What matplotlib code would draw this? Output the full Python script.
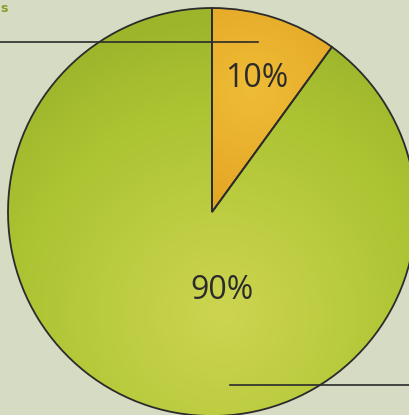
import numpy as np
import matplotlib
matplotlib.use("Agg")
import matplotlib.pyplot as plt
from matplotlib.colors import LinearSegmentedColormap

# pie data
labels = ["10%", "90%"]
shares = [10, 90]
label_pos = [(0.22, 0.655), (0.05, -0.385)]

bg = "#d6dbc3"
ink = "#2b2b2b"

fig = plt.figure(figsize=(4.10, 4.15), dpi=100, facecolor=bg)
ax = fig.add_axes([0, 0, 1, 1])
ax.set_facecolor(bg)

wedges, _ = ax.pie(shares, startangle=90, counterclock=False,
                   colors=["none", "none"], radius=1.0,
                   wedgeprops=dict(edgecolor=ink, linewidth=1.3, zorder=3))

# radial shading inside each wedge
yy, xx = np.mgrid[-1:1:400j, -1:1:400j]
cmaps = [
    LinearSegmentedColormap.from_list("o", ["#efbc36", "#e6aa28", "#da9c22", "#d08f1c"]),
    LinearSegmentedColormap.from_list("g", ["#cdd550", "#c2cf46", "#b5c93a", "#aac231", "#9db52b"]),
]
centers = [(0.2, 0.6), (0.05, -0.5)]
for w, cm, (cx, cy) in zip(wedges, cmaps, centers):
    r = np.hypot(xx - cx, yy - cy)
    im = ax.imshow(r, cmap=cm, extent=(-1, 1, -1, 1), origin="lower",
                   vmin=0, vmax=1.45, zorder=1, interpolation="bilinear")
    im.set_clip_path(w)

for txt, (x, y) in zip(labels, label_pos):
    ax.text(x, y, txt, ha="center", va="center", fontsize=23,
            family="Open Sans", color=ink, zorder=4)

# leader lines
ax.plot([-1.06, 0.225], [0.833, 0.833], color=ink, lw=1.2, zorder=4)
ax.plot([0.09, 1.0], [-0.85, -0.85], color=ink, lw=1.2, zorder=4)

ax.text(-1.035, 1.0, "s", ha="left", va="center", fontsize=9,
        color="#8a9a2a", fontweight="bold", zorder=4)

ax.set_xlim(-212 / 204, 198 / 204)
ax.set_ylim(-203 / 204, 212 / 204)
ax.set_aspect("equal")
ax.axis("off")

fig.savefig("out.png", dpi=100, facecolor=bg)
